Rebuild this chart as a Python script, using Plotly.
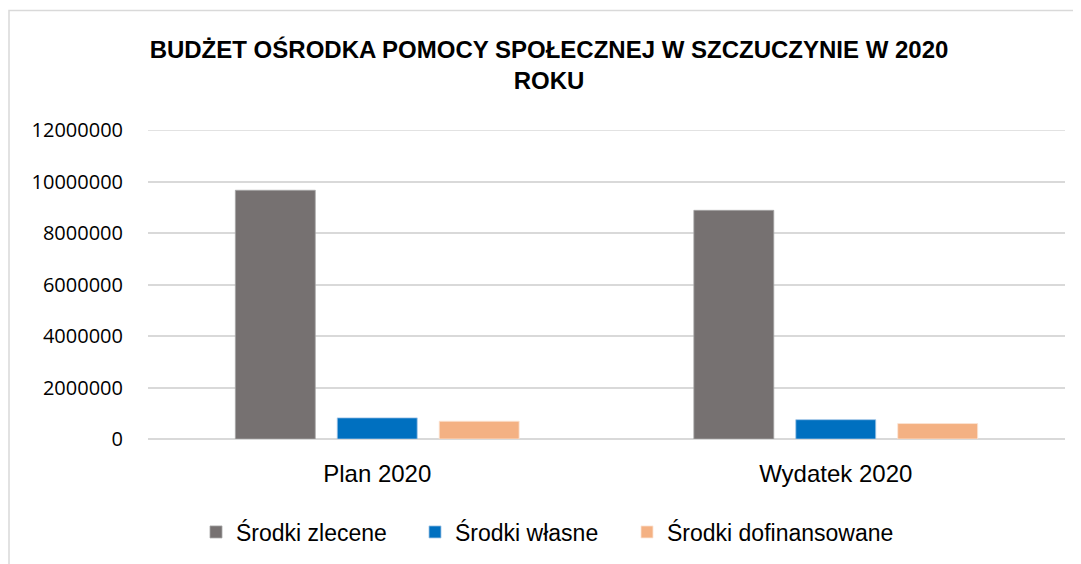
import plotly.graph_objects as go

categories = ["Plan 2020", "Wydatek 2020"]
series_names = ["Środki zlecene", "Środki własne", "Środki dofinansowane"]
zlecene = [9660000, 8880000]
wlasne = [820000, 750000]
dofinansowane = [690000, 600000]
colors = ["#767171", "#0070C0", "#F4B183"]
line_colors = ["#A6A6A6", "#9DC3E6", "#FBE5D6"]
y_ticks = [0, 2000000, 4000000, 6000000, 8000000, 10000000, 12000000]

OFF = 8  # page body offset
W, H = 1081 - OFF, 564 - OFF
L, R, T, B = 148 - OFF, 16, 130 - OFF, 124
pw, ph = W - L - R, H - T - B

narrow = "Liberation Sans Narrow, Arial Narrow, Liberation Sans, Arial, sans-serif"

def px_x(x):  # screen x -> paper
    return (x - OFF - L) / pw

def px_y(y):  # screen y -> paper
    return (H - B - (y - OFF)) / ph

legend_ids = ["legend", "legend2", "legend3"]
legend_left_px = [212, 431, 643]

fig = go.Figure()
for name, vals, c, lc, lid in zip(series_names, [zlecene, wlasne, dofinansowane], colors, line_colors, legend_ids):
    fig.add_trace(go.Bar(x=categories, y=vals, name=name, legend=lid,
                         marker=dict(color=c, line=dict(color=lc, width=0.8))))

legend_cfg = {}
for lid, lx in zip(legend_ids, legend_left_px):
    legend_cfg[lid] = dict(orientation="h", x=px_x(lx - 16), xanchor="left",
                           y=px_y(532), yanchor="middle",
                           font=dict(family=narrow, size=23, color="black"),
                           itemwidth=30, bgcolor="rgba(0,0,0,0)")

fig.update_layout(
    width=W, height=H,
    margin=dict(l=L, r=R, t=T, b=B),
    paper_bgcolor="white", plot_bgcolor="white",
    barmode="group", bargap=0.333, bargroupgap=0.216,
    title=dict(text="<b>BUDŻET OŚRODKA POMOCY SPOŁECZNEJ W SZCZUCZYNIE W 2020<br>ROKU</b>",
               x=(549 - OFF) / W, xanchor="center", y=1 - (58 - OFF) / H, yanchor="middle",
               font=dict(family=narrow, size=24, color="black")),
    font=dict(family=narrow, color="black"),
    showlegend=True,
    xaxis=dict(showgrid=False, showline=False, ticks="",
               tickfont=dict(family=narrow, size=24, color="black"),
               ticklabelstandoff=18),
    yaxis=dict(range=[0, 12000000], tickvals=y_ticks, ticktext=[str(v) for v in y_ticks],
               showgrid=True, gridcolor="#D9D9D9", gridwidth=1.5,
               zeroline=True, zerolinecolor="#D9D9D9", zerolinewidth=1.5,
               showline=False, ticks="",
               tickfont=dict(family="Open Sans, Liberation Sans, sans-serif", size=20, color="black"),
               ticklabelstandoff=24),
    shapes=[dict(type="rect", xref="paper", yref="paper",
                 x0=px_x(9), x1=px_x(1081 + 20), y0=px_y(564 + 20), y1=px_y(10),
                 line=dict(color="#D9D9D9", width=1.5), fillcolor="rgba(0,0,0,0)", layer="below"),
            dict(type="line", xref="paper", yref="y", x0=0, x1=1,
                 y0=y_ticks[-1], y1=y_ticks[-1],
                 line=dict(color="#D9D9D9", width=1.5), layer="below")],
    **legend_cfg,
)

fig.write_html("out.html")
